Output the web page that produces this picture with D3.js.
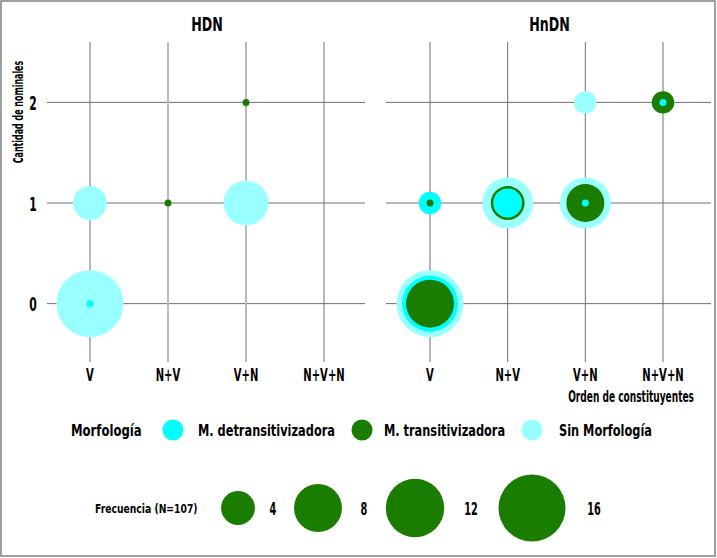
<!DOCTYPE html>
<html>
<head>
<meta charset="utf-8">
<script src="https://cdn.jsdelivr.net/npm/d3@7"></script>
<style>
  body { margin: 0; background: #fff; }
  text { font-family: "DejaVu Sans Condensed", "Liberation Sans Narrow", sans-serif; font-weight: bold; fill: #000; }
</style>
</head>
<body>
<script>
// datos
const panels = ['HDN', 'HnDN'];
const categories = ['V', 'N+V', 'V+N', 'N+V+N'];
const nominalTicks = [0, 1, 2];
const morfologias = ['M. detransitivizadora', 'M. transitivizadora', 'Sin Morfología'];
const sizeBreaks = [4, 8, 12, 16];

// una fila por burbuja
const obsPanel = ['HDN', 'HDN', 'HDN', 'HDN', 'HDN', 'HDN',
  'HnDN', 'HnDN', 'HnDN', 'HnDN', 'HnDN', 'HnDN', 'HnDN', 'HnDN', 'HnDN', 'HnDN', 'HnDN', 'HnDN', 'HnDN', 'HnDN'];
const obsOrden = ['V', 'V', 'V', 'N+V', 'V+N', 'V+N',
  'V', 'V', 'V', 'V', 'V', 'N+V', 'N+V', 'N+V', 'V+N', 'V+N', 'V+N', 'V+N', 'N+V+N', 'N+V+N'];
const obsNominales = [1, 0, 0, 1, 2, 1,
  1, 1, 0, 0, 0, 1, 1, 1, 1, 1, 1, 2, 2, 2];
const obsMorf = ['Sin Morfología', 'Sin Morfología', 'M. detransitivizadora', 'M. transitivizadora', 'M. transitivizadora', 'Sin Morfología',
  'M. detransitivizadora', 'M. transitivizadora', 'Sin Morfología', 'M. detransitivizadora', 'M. transitivizadora',
  'Sin Morfología', 'M. transitivizadora', 'M. detransitivizadora',
  'Sin Morfología', 'M. transitivizadora', 'M. detransitivizadora',
  'Sin Morfología', 'M. transitivizadora', 'M. detransitivizadora'];
const obsFreq = [4, 16, 1, 1, 1, 7,
  2, 1, 16, 11, 8, 9, 4, 3, 9, 5, 1, 2, 2, 1];

const rows = obsFreq.map((f, i) => ({
  panel: obsPanel[i], orden: obsOrden[i], nom: obsNominales[i], morf: obsMorf[i], freq: f
}));

const width = 717;
const height = 558;

const svg = d3.select('body').append('svg')
  .attr('width', width)
  .attr('height', height);

svg.append('rect')
  .attr('x', 1).attr('y', 1)
  .attr('width', width - 3).attr('height', height - 3)
  .attr('fill', '#fff').attr('stroke', '#808080').attr('stroke-width', 1.5);

// texto condensado a mano (sx = escala horizontal)
function label(sel, x, y, s, size, sx, opts = {}) {
  return sel.append('text')
    .attr('transform', `translate(${x},${y})` + (opts.rotate ? ` rotate(${opts.rotate})` : '') + ` scale(${sx},1)`)
    .attr('font-size', size)
    .attr('text-anchor', opts.anchor || 'middle')
    .text(s);
}

const color = d3.scaleOrdinal().domain(morfologias).range(['#00ffff', '#1a7d00', '#99ffff']);
// area tipo ggplot: radio lineal en sqrt de la frecuencia reescalada
const rBase = d3.scaleSqrt().domain([0, 15]).range([3.5, 33.5]);
const r = v => rBase(v - 1);

const y = d3.scaleLinear().domain([-0.58, 2.6]).range([362, 42]);

const panelBox = {
  HDN: { x0: 47, x1: 365, cx: [90, 324], light: ['N+V', 'V+N'] },
  HnDN: { x0: 386, x1: 711, cx: [430, 663], light: [] }
};

panels.forEach(p => {
  const box = panelBox[p];
  const x = d3.scalePoint().domain(categories).range(box.cx);
  const g = svg.append('g');

  // rejilla
  g.selectAll('.hline').data(nominalTicks).enter().append('line')
    .attr('x1', box.x0).attr('x2', box.x1)
    .attr('y1', d => y(d)).attr('y2', d => y(d))
    .attr('stroke', '#707070').attr('stroke-width', 1);

  g.selectAll('.vline').data(categories).enter().append('line')
    .attr('x1', d => x(d)).attr('x2', d => x(d))
    .attr('y1', y.range()[1]).attr('y2', y.range()[0])
    .attr('stroke', d => box.light.includes(d) ? '#bbb' : '#707070')
    .attr('stroke-width', d => box.light.includes(d) ? 2 : 1);

  // burbujas, las grandes primero
  const data = rows.filter(d => d.panel === p).sort((a, b) => b.freq - a.freq);
  g.selectAll('circle').data(data).enter().append('circle')
    .attr('cx', d => x(d.orden))
    .attr('cy', d => y(d.nom))
    .attr('r', d => r(d.freq))
    .attr('fill', d => color(d.morf));

  // titulo
  label(svg, (box.x0 + box.x1) / 2 + 1, 31, p, 19, 0.74);

  // etiquetas eje x
  categories.forEach(c => label(svg, x(c), 381, c, 18, 0.62));
});

// eje y
nominalTicks.forEach(t => label(svg, 33, y(t) + 7.5, String(t), 20, 0.6));
label(svg, 23, 112, 'Cantidad de nominales', 14, 0.63, { rotate: -90 });
label(svg, 694, 402, 'Orden de constituyentes', 15, 0.67, { anchor: 'end' });

// leyenda de color
const ly = 430;
label(svg, 71, ly + 6, 'Morfología', 16, 0.81, { anchor: 'start' });
const keyX = [173, 362, 532];
const txtX = [198, 384, 559];
morfologias.forEach((m, i) => {
  svg.append('circle').attr('cx', keyX[i]).attr('cy', ly).attr('r', 10.5).attr('fill', color(m));
  label(svg, txtX[i], ly + 6, m, 16, 0.79, { anchor: 'start' });
});

// leyenda de tamano
const sy = 508;
label(svg, 95, sy + 5, 'Frecuencia (N=107)', 13, 0.79, { anchor: 'start' });
const sizeX = [238, 318, 415, 532];
const sizeTx = [273, 364, 471, 594];
sizeBreaks.forEach((b, i) => {
  svg.append('circle').attr('cx', sizeX[i]).attr('cy', sy).attr('r', r(b)).attr('fill', '#1a7d00');
  label(svg, sizeTx[i], sy + 7, String(b), 18, 0.6);
});
</script>
</body>
</html>
